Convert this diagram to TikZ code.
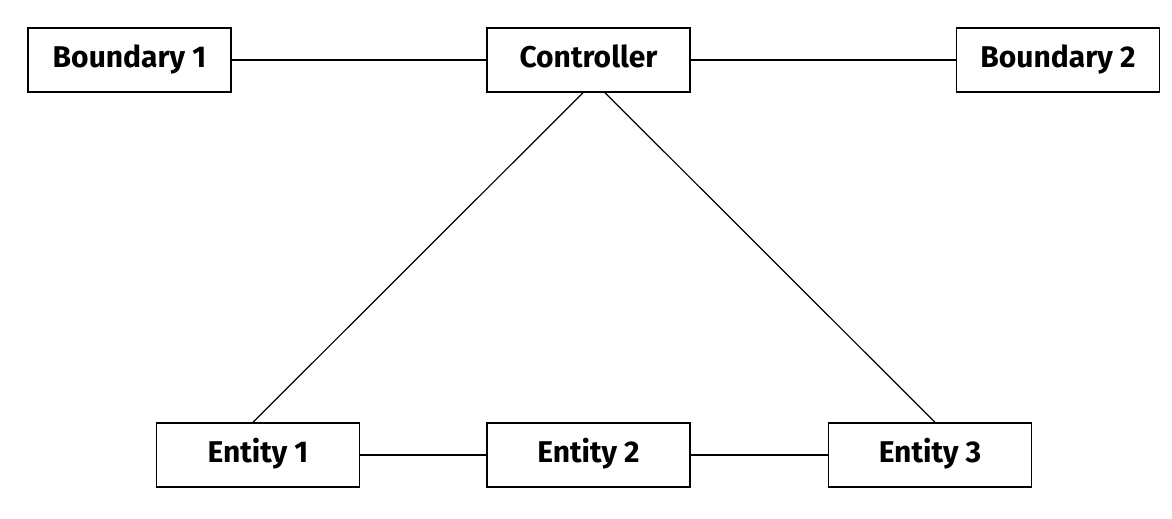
\documentclass[tikz,border=0pt]{standalone}
\usepackage{fontspec}
\setmainfont{Fira Sans}
\usetikzlibrary{calc}

\tikzset{
  cls/.style={draw,line width=1.5pt,minimum width=203pt,minimum height=64pt,
    inner sep=0pt,text height=21pt,text depth=6pt,
    font=\fontsize{30}{32}\selectfont\bfseries},
  link/.style={line width=1.2pt}
}

\begin{document}
\begin{tikzpicture}[x=1pt,y=-1pt]
\useasboundingbox (0,0) rectangle (1172,519);
\node[cls] (b1) at (129.5,60) {Boundary 1};
\node[cls] (ctrl) at (588.5,60) {Controller};
\node[cls] (b2) at (1058,60) {Boundary 2};
\node[cls] (e1) at (258,455) {Entity 1};
\node[cls] (e2) at (588.5,455) {Entity 2};
\node[cls] (e3) at (930,455) {Entity 3};
\draw[link] (b1) -- (ctrl);
\draw[link] (ctrl) -- (b2);
\draw[link] (e1) -- (e2);
\draw[link] (e2) -- (e3);
\draw[link] ([xshift=-5.5pt]ctrl.south) -- ([xshift=-5pt]e1.north);
\draw[link] ([xshift=16.5pt]ctrl.south) -- ([xshift=5pt]e3.north);
\end{tikzpicture}
\end{document}
